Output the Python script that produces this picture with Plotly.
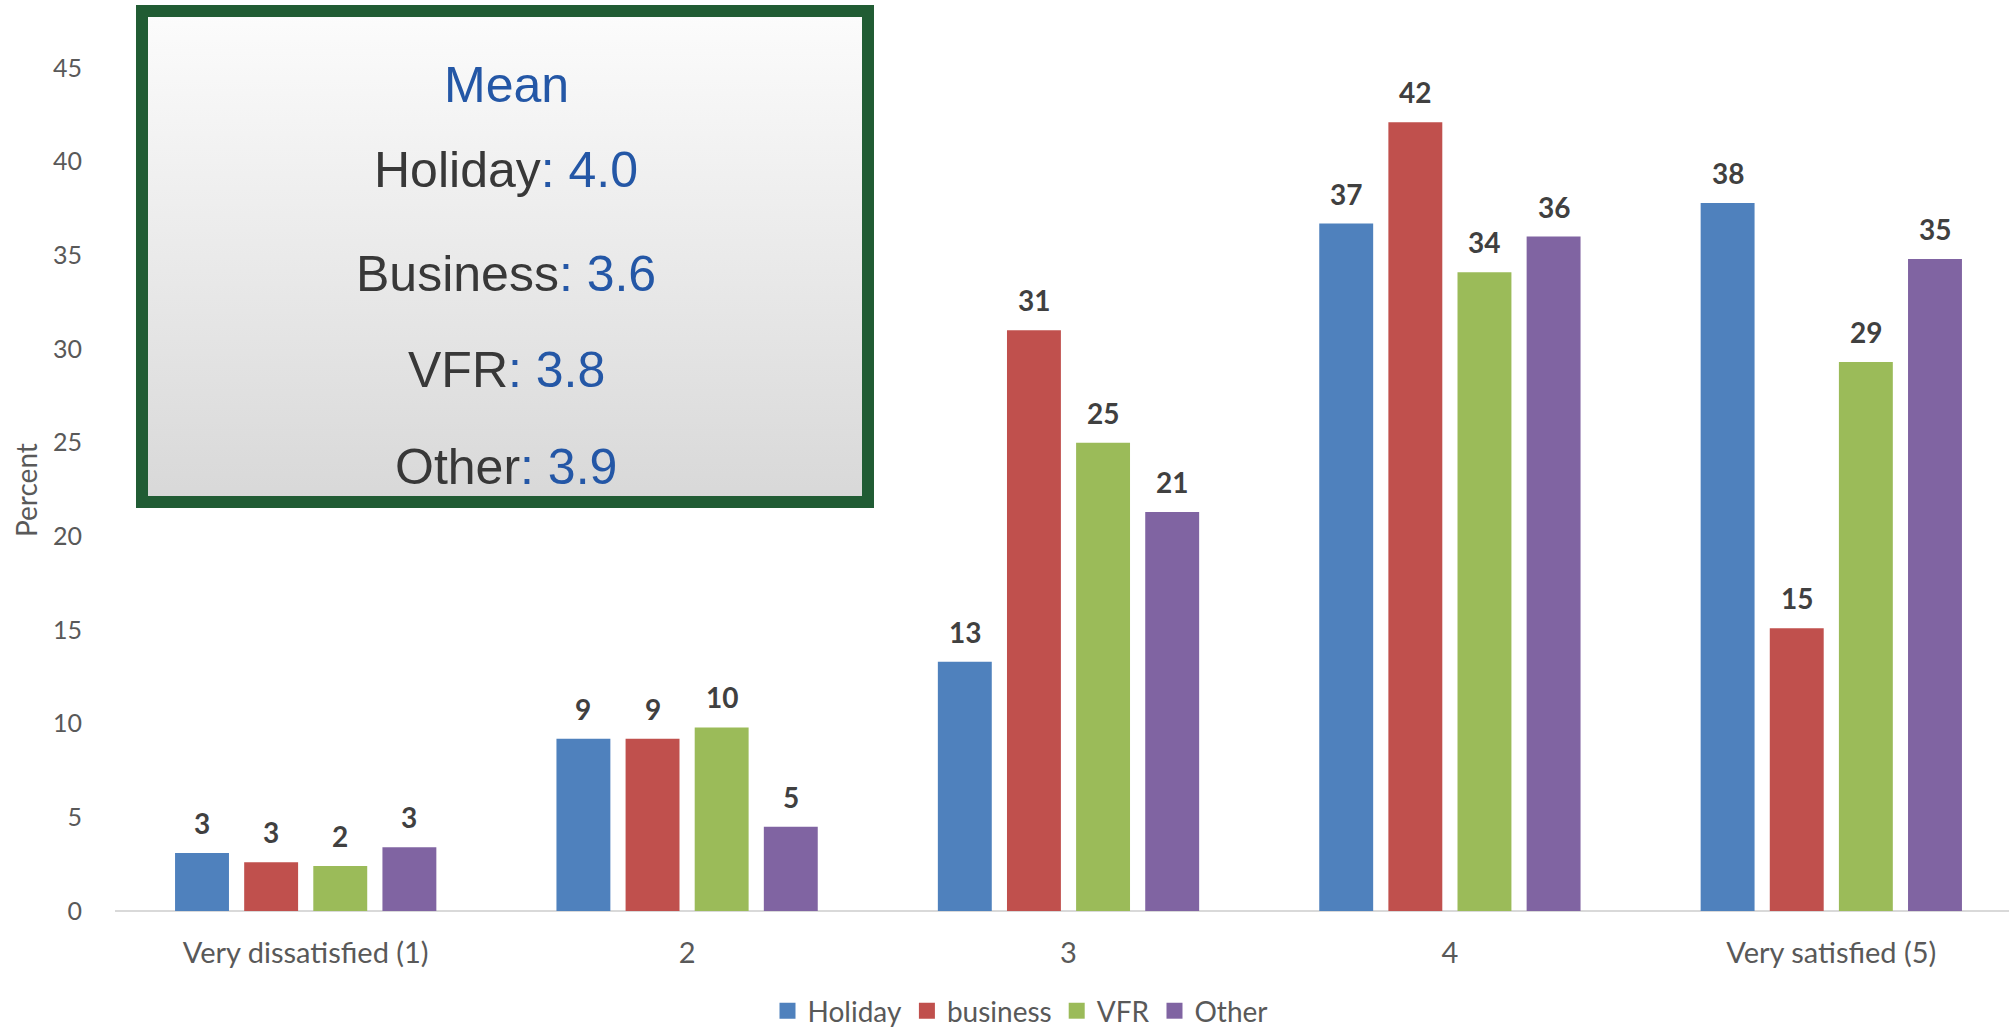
import math
import plotly.graph_objects as go

# Satisfaction ratings by visitor type (percent of respondents)
categories = ["Very dissatisfied (1)", "2", "3", "4", "Very satisfied (5)"]
series_names = ["Holiday", "business", "VFR", "Other"]
holiday = [3.1, 9.2, 13.3, 36.7, 37.8]
business = [2.6, 9.2, 31.0, 42.1, 15.1]
vfr = [2.4, 9.8, 25.0, 34.1, 29.3]
other = [3.4, 4.5, 21.3, 36.0, 34.8]
series_values = [holiday, business, vfr, other]
series_colors = ["#4F81BD", "#C0504D", "#9BBB59", "#8064A2"]

# Mean score per visitor type
mean_labels = ["Holiday", "Business", "VFR", "Other"]
mean_values = [4.0, 3.6, 3.8, 3.9]

y_ticks = [0, 5, 10, 15, 20, 25, 30, 35, 40, 45]

W, H = 2009, 1031
ML, MR, MT, MB = 115, 0, 0, 120
PW, PH = W - ML - MR, H - MT - MB
CAT_PX = 381.4          # width of one category in pixels
Y_PX = 18.733           # pixels per percent
BARGAP, GROUPGAP = 0.275, 0.22


def px(x):
    return (x - ML) / PW


def py(y):
    return (H - MB - y) / PH


def round_half_up(v):
    return int(math.floor(v + 0.5))


x_idx = list(range(len(categories)))
fig = go.Figure()

for name, vals, col in zip(series_names, series_values, series_colors):
    fig.add_trace(go.Bar(
        x=x_idx, y=vals, name=name, marker=dict(color=col, line=dict(width=0)),
        legendgroup=name, showlegend=False, hoverinfo="x+y+name",
    ))
    # legend entry with a larger square swatch
    fig.add_trace(go.Scatter(
        x=[None], y=[None], mode="markers", name=name, legendgroup=name,
        marker=dict(symbol="square", size=17, color=col),
    ))

# value labels above each bar
slot = (1 - BARGAP) / len(series_names)
annotations = []
for i, vals in enumerate(series_values):
    off = (i - (len(series_names) - 1) / 2) * slot
    for j, v in enumerate(vals):
        annotations.append(dict(
            x=j + off, y=v, xref="x", yref="y", text=str(round_half_up(v)),
            showarrow=False, yanchor="bottom", yshift=11,
            font=dict(family="Lato", size=28, color="#404040", weight="bold"),
        ))

# y-axis title
annotations.append(dict(
    x=px(26), y=py(490), xref="paper", yref="paper", text="Percent",
    textangle=-90, showarrow=False, xanchor="center", yanchor="middle",
    font=dict(family="Lato", size=28, color="#595959"),
))

# mean summary box
box_font = dict(family="Liberation Sans, Arial", size=50, color="#383838")
blue = "#2457A6"
annotations.append(dict(
    x=px(506), y=py(85), xref="paper", yref="paper", text="Mean",
    showarrow=False, xanchor="center", yanchor="middle",
    font=dict(family="Liberation Sans, Arial", size=50, color=blue),
))
for lab, val, yc in zip(mean_labels, mean_values, [170, 274, 370, 467]):
    annotations.append(dict(
        x=px(506), y=py(yc), xref="paper", yref="paper",
        text=f"{lab}<span style='color:{blue}'>: {val:.1f}</span>",
        showarrow=False, xanchor="center", yanchor="middle", font=box_font,
    ))

# gradient background of the summary box
bx0, bx1, by0, by1 = px(142), px(868), py(502), py(11)
fig.add_trace(go.Scatter(
    x=[bx0, bx1, bx1, bx0, bx0], y=[by0, by0, by1, by1, by0],
    xaxis="x2", yaxis="y2", mode="lines", fill="toself",
    line=dict(width=0), hoverinfo="skip", showlegend=False,
    fillgradient=dict(type="vertical",
                      colorscale=[[0, "#D8D8D8"], [1, "#FCFCFC"]]),
))

shapes = [dict(
    type="rect", xref="paper", yref="paper", x0=bx0, x1=bx1, y0=by0, y1=by1,
    line=dict(color="#215C34", width=12), fillcolor="rgba(0,0,0,0)",
    layer="above",
)]

fig.update_layout(
    width=W, height=H,
    margin=dict(l=ML, r=MR, t=MT, b=MB, pad=0, autoexpand=False),
    paper_bgcolor="white", plot_bgcolor="white",
    barmode="group", bargap=BARGAP, bargroupgap=GROUPGAP,
    xaxis=dict(
        range=[-0.5, -0.5 + PW / CAT_PX], tickvals=x_idx, ticktext=categories,
        showgrid=False, zeroline=False, showline=False, ticks="",
        ticklabelstandoff=22, automargin=False,
        tickfont=dict(family="Lato", size=29, color="#595959"),
        fixedrange=True,
    ),
    yaxis=dict(
        range=[0, PH / Y_PX], tickvals=y_ticks, showgrid=False,
        zeroline=True, zerolinecolor="#D9D9D9", zerolinewidth=2,
        showline=False, ticks="", ticklabelstandoff=32, automargin=False,
        tickfont=dict(family="Lato", size=25, color="#595959"),
        fixedrange=True,
    ),
    xaxis2=dict(overlaying="x", range=[0, 1], visible=False, fixedrange=True),
    yaxis2=dict(overlaying="y", range=[0, 1], visible=False, fixedrange=True),
    showlegend=True,
    legend=dict(
        orientation="h", x=px(1020), xanchor="center", y=py(1011),
        yanchor="middle", font=dict(family="Lato", size=28, color="#595959"),
        itemsizing="trace", bgcolor="rgba(0,0,0,0)",
    ),
    annotations=annotations,
    shapes=shapes,
)

fig.write_html("out.html")
